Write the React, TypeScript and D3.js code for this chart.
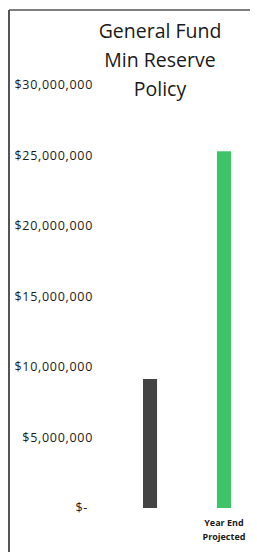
import * as d3 from 'd3';

const categories = ['', 'Year End Projected'];
const values = [9150000, 25300000];
const barColors = ['#434343', '#3cc467'];
const tickValues = [0, 5000000, 10000000, 15000000, 20000000, 25000000, 30000000];
const titleLines = ['General Fund', 'Min Reserve', 'Policy'];

const W = 257;
const H = 552;

const fmt = (v: number) => (v === 0 ? '$-' : '$' + d3.format(',')(v));

export default function App() {
  const y = d3.scaleLinear().domain([0, 30000000]).range([508, 85]);
  const x = d3
    .scaleBand()
    .domain(categories.map((c, i) => String(i)))
    .range([143, 231])
    .paddingInner(0.81)
    .paddingOuter(0);

  return (
    <svg width={W} height={H} style={{ position: 'absolute', left: 0, top: 0, background: '#fff' }}>
      {/* frame */}
      <line x1={9} y1={10} x2={250} y2={10} stroke="#555" strokeWidth={1.5} />
      <line x1={9} y1={10} x2={9} y2={H} stroke="#555" strokeWidth={2} />

      {titleLines.map((t, i) => (
        <text key={t} x={160} y={38 + i * 29} textAnchor="middle" fontFamily="Open Sans, sans-serif" fontSize={19.5} fill="#1a1a1a">
          {t}
        </text>
      ))}

      {tickValues.map((v) => (
        <text
          key={v}
          x={v === 0 ? 88 : 93}
          y={y(v) + 4}
          textAnchor="end"
          fontFamily="Open Sans, sans-serif"
          fontSize={12.5}
          letterSpacing={0.7}
          fill="#1a1a1a"
        >
          {fmt(v)}
        </text>
      ))}

      {values.map((v, i) => (
        <rect
          key={i}
          x={x(String(i))}
          y={y(v)}
          width={x.bandwidth()}
          height={y(0) - y(v)}
          fill={barColors[i]}
        />
      ))}

      {categories.map((c, i) => {
        const words = c.split(' ');
        const lines = words.length > 1 ? [words.slice(0, 2).join(' '), words.slice(2).join(' ')] : [c];
        return lines.map((l, j) => (
          <text
            key={i + '-' + j}
            x={(x(String(i)) as number) + x.bandwidth() / 2}
            y={526 + j * 14}
            textAnchor="middle"
            fontFamily="Open Sans, sans-serif"
            fontWeight="bold"
            fontSize={9}
            fill="#1a1a1a"
          >
            {l}
          </text>
        ));
      })}
    </svg>
  );
}
